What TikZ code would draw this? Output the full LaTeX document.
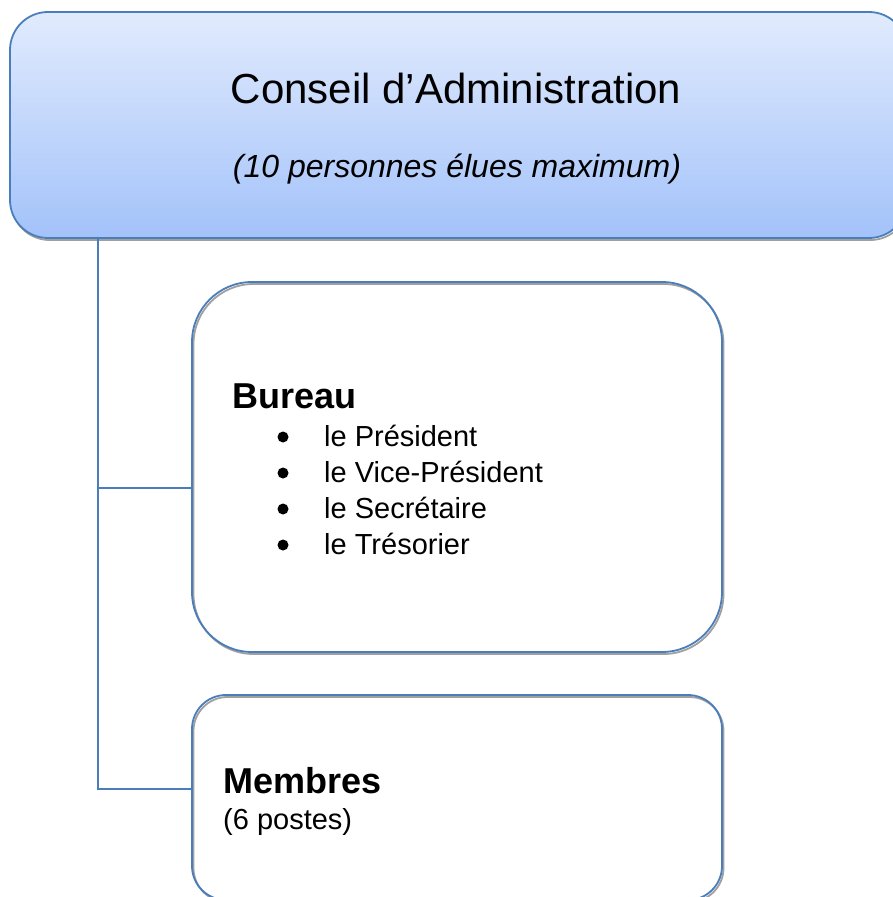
\documentclass[tikz,border=0pt]{standalone}
\usepackage{fontspec}
\setmainfont{Liberation Sans}
\definecolor{bordbleu}{HTML}{4A7EBB}
\definecolor{fondhaut}{HTML}{E1EBFD}
\definecolor{fondbas}{HTML}{A3C2FA}
\definecolor{ombre}{HTML}{A0A0A0}

\begin{document}
\begin{tikzpicture}[x=1pt, y=-1pt,
    boite/.style={draw=bordbleu, line width=1.8pt, inner sep=0pt,
      preaction={draw=ombre, line width=1.8pt, transform canvas={shift={(1.5pt,-2pt)}}}},
    lien/.style={draw=bordbleu, line width=1.6pt},
    puce/.style={anchor=base west, inner sep=0pt, font=\fontsize{29}{34}\selectfont}]
  \useasboundingbox (0,0) rectangle (893,897);
  \clip (0,0) rectangle (893,897);

  % boites
  \node[boite, rounded corners=38pt, top color=fondhaut, bottom color=fondbas,
    minimum width=897pt, minimum height=226pt] (conseil) at (458.5,125) {};
  \node[boite, rounded corners=60pt, minimum width=530pt, minimum height=370pt] (bureau) at (457,467) {};
  \node[boite, rounded corners=34pt, minimum width=530pt, minimum height=205pt] (membres) at (457,797.5) {};

  % textes
  \node[anchor=base, inner sep=0pt, font=\fontsize{42}{50}\selectfont] (titre) at (456,103) {Conseil d’Administration};
  \node[anchor=base, inner sep=0pt, font=\fontsize{32}{38}\selectfont\itshape] (effectif) at (457,177) {(10 personnes élues maximum)};
  \node[anchor=base west, inner sep=0pt, font=\fontsize{36}{42}\selectfont\bfseries] (tbureau) at (232,408) {Bureau};
  \foreach \nom/\txt/\yb in {pres/le Président/446, vice/le Vice-Président/482, secr/le Secrétaire/518, tres/le Trésorier/554}{
    \node[puce] (\nom) at (324,\yb) {\txt};
    \fill ([xshift=-41pt, yshift=9pt]\nom.base west) circle (5.5pt);
  }
  \node[anchor=base west, inner sep=0pt, font=\fontsize{36}{42}\selectfont\bfseries] (tmembres) at (223,793) {Membres};
  \node[puce] (postes) at (223,829) {(6 postes)};

  % liens
  \coordinate (tronc) at (98,238);
  \coordinate (versbureau) at ([yshift=-21pt]bureau.west);
  \coordinate (versmembres) at ([yshift=8.5pt]membres.west);
  \draw[lien] (tronc) |- (versmembres);
  \draw[lien] (tronc |- versbureau) -- (versbureau);
\end{tikzpicture}
\end{document}
